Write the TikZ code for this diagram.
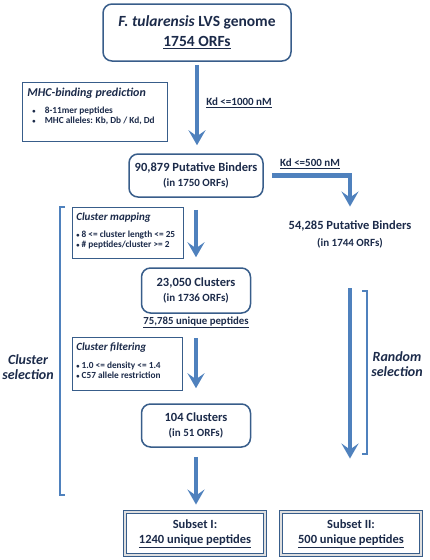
\documentclass[tikz,border=0pt]{standalone}
\usepackage{fontspec}
\setmainfont{Carlito}
\usetikzlibrary{positioning, arrows.meta}
\definecolor{inkblue}{HTML}{1C2B4A}
\definecolor{frameblue}{HTML}{385D8A}
\definecolor{flowblue}{HTML}{4F81BD}
\newcommand{\orfline}[1]{{\fontsize{11}{13}\selectfont #1}}
\newcommand{\dotitem}{\raisebox{0.5pt}{\fontsize{6.5}{6.5}\selectfont\textbullet}}
\tikzset{%
  stage/.style    = {draw=frameblue, line width=1.5pt, rounded corners=9pt,
    fill=white, align=center, text=inkblue, inner sep=0pt,
    font=\bfseries\fontsize{12.5}{15}\selectfont},
  rulebox/.style  = {draw=frameblue, line width=0.8pt, fill=white},
  ruletitle/.style = {text=inkblue, inner sep=0pt, anchor=west,
    font=\bfseries\itshape\fontsize{11}{13}\selectfont},
  rulelist/.style = {text=inkblue, inner sep=0pt, anchor=north west, align=left,
    font=\bfseries\fontsize{9.3}{10}\selectfont},
  subset/.style   = {draw=frameblue, line width=0.9pt, double=gray!25,
    double distance=2pt, fill=white, align=center, text=inkblue, inner sep=0pt,
    minimum width=140pt, minimum height=43pt,
    font=\bfseries\fontsize{12.5}{15}\selectfont},
  kd/.style       = {text=inkblue, inner sep=0pt,
    font=\bfseries\fontsize{11}{13}\selectfont},
  side/.style     = {text=inkblue, align=center, inner sep=0pt,
    font=\bfseries\itshape\fontsize{14}{15}\selectfont},
  bracket/.style  = {draw=flowblue, line width=1.3pt}
}
\tikzstyle{arrow} = [draw=flowblue, line width=4.5pt,
  -{Stealth[length=15pt,width=17pt,inset=6pt]}]

\begin{document}
\begin{tikzpicture}[x=1pt, y=1pt]
\useasboundingbox (0,0) rectangle (430,-560);

\draw
  node [stage, minimum width=188pt, minimum height=57pt,
        font=\bfseries\fontsize{15.5}{20}\selectfont] (genome) at (197,-32.5)
        {\textit{F. tularensis} LVS genome\\ \underline{1754 ORFs}}
  node [stage, minimum width=134pt, minimum height=43pt] (binders) at (196,-175.5)
        {90,879 Putative Binders\\ \orfline{(in 1750 ORFs)}}
  node [stage, minimum width=109pt, minimum height=45pt] (clusters) at (196,-290.5)
        {23,050 Clusters\\ \orfline{(in 1736 ORFs)}}
  node [stage, minimum width=109pt, minimum height=43pt] (filtered) at (196,-425.5)
        {104 Clusters\\ \orfline{(in 51 ORFs)}}
;

\node [kd, font=\bfseries\fontsize{10.8}{13}\selectfont, below=3pt of clusters]
  (peptides) {\underline{75,785 unique peptides}};

\node [stage, draw=none, fill=none, font=\bfseries\fontsize{12.5}{17}\selectfont]
  (random) at (350,-234) {54,285 Putative Binders\\ \orfline{(in 1744 ORFs)}};

\node [subset] (subsetI) at (195,-533.5) {Subset I:\\ \underline{1240 unique peptides}};
\node [subset] (subsetII) at (351,-533.5) {Subset II:\\ \underline{500 unique peptides}};

% filter boxes
\node [rulebox, minimum width=145pt, minimum height=59pt] (mhc) at (95,-112) {};
\node [ruletitle, font=\bfseries\itshape\fontsize{12}{14}\selectfont]
  (mhc_t) at ([xshift=5pt, yshift=-11pt]mhc.north west) {MHC-binding prediction};
\node [rulelist] (mhc_l) at ([xshift=10pt, yshift=-25pt]mhc.north west)
  {\dotitem\quad 8-11mer peptides\\ \dotitem\quad MHC alleles: Kb, Db / Kd, Dd};

\node [rulebox, minimum width=111pt, minimum height=51pt] (mapping) at (128,-233) {};
\node [ruletitle] (mapping_t) at ([xshift=4pt, yshift=-10pt]mapping.north west)
  {Cluster mapping};
\node [rulelist] (mapping_l) at ([xshift=4pt, yshift=-24pt]mapping.north west)
  {\dotitem\ 8 <= cluster length <= 25\\ \dotitem\ \# peptides/cluster >= 2};

\node [rulebox, minimum width=110pt, minimum height=53pt] (filtering) at (127.5,-364) {};
\node [ruletitle] (filtering_t) at ([xshift=4pt, yshift=-10pt]filtering.north west)
  {Cluster filtering};
\node [rulelist] (filtering_l) at ([xshift=4pt, yshift=-25pt]filtering.north west)
  {\dotitem\ 1.0 <= density <= 1.4\\ \dotitem\ C57 allele restriction};

\node [kd] (kd1000) at (239,-103) {\underline{Kd <=1000 nM}};
\node [kd] (kd500) at (310,-164) {\underline{Kd <=500 nM}};

\node [side] (clustersel) at (28,-367) {Cluster\\ selection};
\node [side] (randomsel) at (397,-364) {Random\\ selection};

\coordinate (cs_top) at (65,-207);
\coordinate (cs_bot) at (65,-495);
\coordinate (rs_top) at (362,-291);
\coordinate (rs_bot) at (362,-454);

\draw [bracket] (cs_top) -- ++(-5,0) |- (cs_bot);
\draw [bracket] (rs_top) -- ++(5,0) |- (rs_bot);

\draw [arrow, shorten <=3pt, shorten >=8pt] (genome.south) -- (genome.south |- binders.north);
\draw [arrow, shorten <=12pt, shorten >=10pt] (binders.south) -- (clusters.north);
\draw [arrow, shorten <=10pt, shorten >=15pt] (peptides.south) -- (filtered.north);
\draw [arrow, shorten <=9pt, shorten >=7pt] (filtered.south) -- (filtered.south |- subsetI.north);
\draw [arrow, shorten <=8pt, shorten >=13pt] (binders.east) -| (random.north);
\draw [arrow, shorten <=40pt, shorten >=53pt] (random.south) -- (random.south |- subsetII.north);

\end{tikzpicture}
\end{document}
